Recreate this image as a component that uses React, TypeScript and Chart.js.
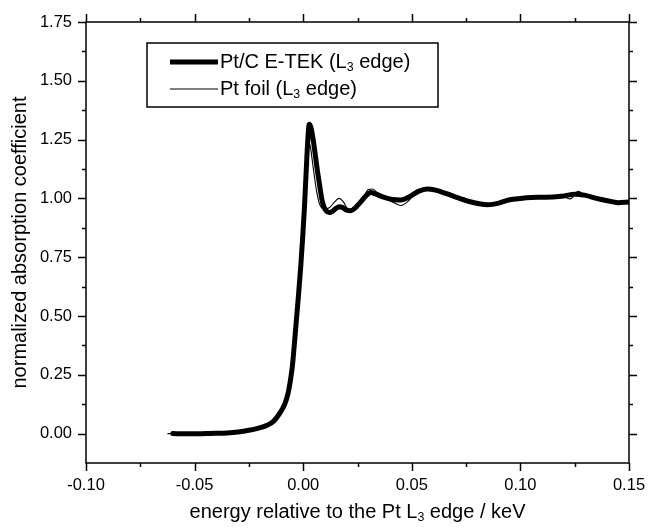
import { useEffect, useRef } from "react";
import { Chart, registerables } from "chart.js";

Chart.register(...registerables);

// Pt/C E-TEK (L3 edge)
const etekX = [
  -0.06, -0.055, -0.05, -0.045, -0.04, -0.035, -0.03, -0.025, -0.021, -0.017,
  -0.0137, -0.0107, -0.0085, -0.007, -0.006, -0.005, -0.0038, -0.0022, -0.0011, -0.0002,
  0.0005, 0.0013, 0.002, 0.0028, 0.0036, 0.0045, 0.0055, 0.0065, 0.0075, 0.0085,
  0.0095, 0.0105, 0.012, 0.0135, 0.015, 0.0165, 0.018, 0.02, 0.022, 0.024,
  0.0265, 0.029, 0.031, 0.0335, 0.037, 0.041, 0.045, 0.049, 0.053, 0.057,
  0.061, 0.066, 0.071, 0.076, 0.081, 0.085, 0.09, 0.095, 0.1, 0.105,
  0.11, 0.115, 0.12, 0.125, 0.13, 0.135, 0.14, 0.145, 0.15,
];
const etekY = [
  0.0, -0.001, -0.001, 0.0, 0.001, 0.003, 0.007, 0.014, 0.022, 0.034,
  0.052, 0.088, 0.125, 0.17, 0.22, 0.285, 0.41, 0.585, 0.715, 0.84,
  0.95, 1.1, 1.23, 1.315, 1.3, 1.255, 1.19, 1.12, 1.06, 1.0,
  0.965, 0.948, 0.94, 0.945, 0.957, 0.965, 0.962, 0.95, 0.948, 0.96,
  0.985, 1.012, 1.025, 1.018, 1.005, 0.995, 0.993, 1.008, 1.03, 1.04,
  1.035, 1.02, 1.003, 0.988, 0.977, 0.973, 0.98, 0.994, 1.0, 1.004,
  1.005, 1.006, 1.01, 1.018, 1.013, 1.0, 0.99, 0.982, 0.985,
];

// Pt foil (L3 edge)
const foilX = [
  -0.0625, -0.06, -0.055, -0.05, -0.045, -0.04, -0.035, -0.03, -0.025, -0.021,
  -0.017, -0.0137, -0.0107, -0.0085, -0.007, -0.006, -0.005, -0.0038, -0.0022, -0.0011,
  -0.0002, 0.0005, 0.0013, 0.002, 0.0026, 0.0033, 0.0042, 0.0052, 0.0062, 0.0072,
  0.0085, 0.01, 0.012, 0.0145, 0.0165, 0.0185, 0.0205, 0.0225, 0.025, 0.0275,
  0.03, 0.032, 0.0345, 0.038, 0.042, 0.045, 0.048, 0.052, 0.057, 0.061,
  0.066, 0.071, 0.076, 0.081, 0.085, 0.09, 0.095, 0.1, 0.105, 0.11,
  0.115, 0.12, 0.123, 0.1265, 0.13, 0.135, 0.14, 0.145, 0.15,
];
const foilY = [
  0.0, 0.0, -0.001, -0.001, 0.0, 0.001, 0.003, 0.007, 0.014, 0.022,
  0.034, 0.052, 0.088, 0.125, 0.17, 0.22, 0.285, 0.41, 0.585, 0.715,
  0.83, 0.93, 1.08, 1.19, 1.235, 1.22, 1.16, 1.09, 1.03, 0.985,
  0.96, 0.955, 0.96, 0.985, 1.0, 0.985, 0.955, 0.95, 0.965, 1.0,
  1.038, 1.04, 1.02, 1.0, 0.98, 0.97, 0.985, 1.025, 1.04, 1.035,
  1.018, 1.0, 0.985, 0.975, 0.972, 0.98, 0.995, 1.002, 1.006, 1.004,
  1.008, 1.006, 0.998, 1.03, 1.012, 0.998, 0.988, 0.98, 0.985,
];

const seriesLabels = ["Pt/C E-TEK", "Pt foil"];
const xTicks = [-0.1, -0.05, 0.0, 0.05, 0.1, 0.15];
const xMinor = [-0.075, -0.025, 0.025, 0.075, 0.125];
const yTicks = [0.0, 0.25, 0.5, 0.75, 1.0, 1.25, 1.5, 1.75];
const yMinor = [0.125, 0.375, 0.625, 0.875, 1.125, 1.375, 1.625];
const xMin = -0.1;
const xMax = 0.15;
const yMin = -0.125;
const yMax = 1.75;

const FONT = '"Liberation Sans", Arial, Helvetica, sans-serif';

function drawSubText(
  ctx: CanvasRenderingContext2D,
  parts: { t: string; sub?: boolean }[],
  x: number,
  y: number,
  size: number,
  measureOnly = false
): number {
  let cx = x;
  for (const p of parts) {
    const s = p.sub ? size * 0.62 : size;
    ctx.font = `${s}px ${FONT}`;
    if (!measureOnly) ctx.fillText(p.t, cx, p.sub ? y + size * 0.3 : y);
    cx += ctx.measureText(p.t).width;
  }
  return cx - x;
}

const framePlugin = {
  id: "frame",
  afterDraw(chart: any) {
    const { ctx, chartArea, scales } = chart;
    const { left, right, top, bottom } = chartArea;
    const xs = scales.x;
    const ys = scales.y;
    ctx.save();
    ctx.strokeStyle = "#000";
    ctx.fillStyle = "#000";
    ctx.lineWidth = 1.5;
    ctx.strokeRect(left, top, right - left, bottom - top);
    ctx.beginPath();
    const tick = (vals: number[], len: number) => {
      for (const v of vals) {
        const px = Math.round(xs.getPixelForValue(v)) + 0.5;
        ctx.moveTo(px, bottom);
        ctx.lineTo(px, bottom + len);
        ctx.moveTo(px, top);
        ctx.lineTo(px, top - len);
      }
    };
    const ytick = (vals: number[], len: number) => {
      for (const v of vals) {
        const py = Math.round(ys.getPixelForValue(v)) + 0.5;
        ctx.moveTo(left, py);
        ctx.lineTo(left - len, py);
        ctx.moveTo(right, py);
        ctx.lineTo(right + len, py);
      }
    };
    tick(xTicks, 8);
    tick(xMinor, 4);
    ytick(yTicks, 8);
    ytick(yMinor, 4);
    ctx.stroke();

    // axis titles
    ctx.textBaseline = "middle";
    ctx.textAlign = "left";
    const xParts = [
      { t: "energy relative to the Pt L" },
      { t: "3", sub: true },
      { t: " edge / keV" },
    ];
    const w = drawSubText(ctx, xParts, 0, 0, 20, true);
    drawSubText(ctx, xParts, (left + right) / 2 - w / 2, 512, 20);

    ctx.save();
    ctx.translate(20, (top + bottom) / 2);
    ctx.rotate(-Math.PI / 2);
    ctx.textAlign = "center";
    ctx.font = `20px ${FONT}`;
    ctx.fillText("normalized absorption coefficient", 0, 0);
    ctx.restore();

    // legend
    const lx = 147, ly = 43, lw = 291, lh = 64;
    ctx.fillStyle = "#fff";
    ctx.fillRect(lx, ly, lw, lh);
    ctx.strokeStyle = "#000";
    ctx.lineWidth = 1.5;
    ctx.strokeRect(lx, ly, lw, lh);
    const rows = [
      { label: seriesLabels[0], width: 5, y: 62 },
      { label: seriesLabels[1], width: 1, y: 89 },
    ];
    for (const r of rows) {
      ctx.beginPath();
      ctx.lineWidth = r.width;
      ctx.lineCap = "butt";
      ctx.moveTo(170, r.y);
      ctx.lineTo(218, r.y);
      ctx.stroke();
      ctx.fillStyle = "#000";
      ctx.textAlign = "left";
      ctx.textBaseline = "middle";
      drawSubText(
        ctx,
        [{ t: r.label + " (L" }, { t: "3", sub: true }, { t: " edge)" }],
        220,
        r.y,
        20
      );
    }
    ctx.restore();
  },
};

export default function App() {
  const ref = useRef<HTMLCanvasElement | null>(null);
  useEffect(() => {
    document.body.style.margin = "0";
    const canvas = ref.current!;
    const chart = new Chart(canvas, {
      type: "line",
      data: {
        datasets: [
          {
            label: seriesLabels[0] + " (L3 edge)",
            data: etekX.map((x, i) => ({ x, y: etekY[i] })),
            borderColor: "#000",
            borderWidth: 5,
            pointRadius: 0,
            cubicInterpolationMode: "monotone",
            borderJoinStyle: "round",
            borderCapStyle: "round",
            order: 2,
          },
          {
            label: seriesLabels[1] + " (L3 edge)",
            data: foilX.map((x, i) => ({ x, y: foilY[i] })),
            borderColor: "#000",
            borderWidth: 1.1,
            pointRadius: 0,
            cubicInterpolationMode: "monotone",
            order: 1,
          },
        ],
      },
      options: {
        animation: false,
        responsive: false,
        maintainAspectRatio: false,
        layout: { padding: { top: 22, right: 19, left: 0, bottom: 0 } },
        plugins: {
          legend: { display: false },
          tooltip: { enabled: false },
        },
        scales: {
          x: {
            type: "linear",
            min: xMin,
            max: xMax,
            afterFit: (s: any) => {
              s.height = 65;
              s.paddingLeft = 0;
              s.paddingRight = 0;
            },
            afterBuildTicks: (s: any) => {
              s.ticks = xTicks.map((v) => ({ value: v }));
            },
            grid: {
              display: true,
              drawOnChartArea: false,
              drawTicks: true,
              tickLength: 8,
              color: "transparent",
            },
            border: { display: false },
            ticks: {
              color: "#000",
              padding: 5,
              maxRotation: 0,
              font: { family: FONT, size: 16.5 },
              callback: (v: any) => Number(v).toFixed(2),
            },
          },
          y: {
            type: "linear",
            min: yMin,
            max: yMax,
            afterFit: (s: any) => {
              s.width = 86;
              s.paddingTop = 0;
              s.paddingBottom = 0;
            },
            afterBuildTicks: (s: any) => {
              s.ticks = yTicks.map((v) => ({ value: v }));
            },
            grid: {
              display: true,
              drawOnChartArea: false,
              drawTicks: true,
              tickLength: 8,
              color: "transparent",
            },
            border: { display: false },
            ticks: {
              color: "#000",
              padding: 6,
              font: { family: FONT, size: 16.5 },
              callback: (v: any) => Number(v).toFixed(2),
            },
          },
        },
      },
      plugins: [framePlugin],
    } as any);
    return () => chart.destroy();
  }, []);
  return (
    <canvas
      ref={ref}
      width={648}
      height={528}
      style={{ display: "block", width: 648, height: 528, background: "#fff" }}
    />
  );
}
